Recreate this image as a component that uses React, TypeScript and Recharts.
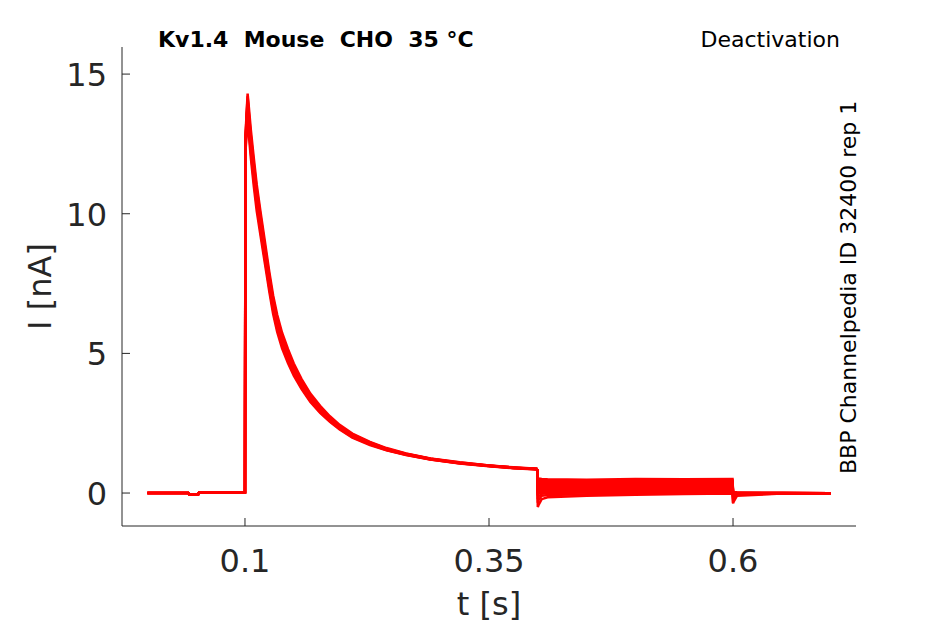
import { LineChart, Line, XAxis, YAxis } from "recharts";

// sample times [s] up to the end of the test pulse
const preTimes = [
  0, 0.042, 0.043, 0.052, 0.053, 0.0995, 0.1, 0.1005, 0.1027, 0.104, 0.106, 0.109, 0.112,
  0.116, 0.1205, 0.125, 0.1288, 0.133, 0.138, 0.144, 0.15, 0.158, 0.167, 0.177, 0.187, 0.197,
  0.21, 0.228, 0.245, 0.265, 0.29, 0.32, 0.35, 0.375, 0.3995,
];

// sample times [s] of the deactivation step and return
const tailTimes = [0.3995, 0.4, 0.4008, 0.404, 0.41, 0.45, 0.5, 0.55, 0.5995, 0.6, 0.6008, 0.604, 0.65, 0.7];

// holding level before the step (t 0 .. 0.1)
const baseline = [0, 0, -0.05, -0.05, 0.03, 0.03, 0.03];

// rise + peak (t 0.1005, 0.1027)
const peaks = [
  [12.8, 14.3],
  [12.7, 14.2],
  [12.5, 14.0],
  [12.4, 13.9],
  [12.3, 13.7],
  [12.6, 14.1],
  [12.5, 13.95],
  [12.2, 13.5],
];

// inactivating decay (t 0.104 .. 0.3995)
const decays = [
  [13.8, 13.0, 12.0, 11.05, 10.05, 8.98, 7.9, 7.08, 6.38, 5.74, 5.16, 4.64, 4.08, 3.56, 3.12, 2.75, 2.44, 2.13, 1.83, 1.61, 1.42, 1.24, 1.1, 0.99, 0.92, 0.87],
  [13.6, 12.8, 11.8, 10.9, 9.9, 8.82, 7.76, 6.95, 6.26, 5.63, 5.06, 4.55, 4.0, 3.49, 3.06, 2.7, 2.4, 2.1, 1.81, 1.59, 1.41, 1.23, 1.09, 0.99, 0.91, 0.87],
  [13.4, 12.6, 11.6, 10.7, 9.7, 8.65, 7.6, 6.8, 6.12, 5.5, 4.95, 4.45, 3.92, 3.42, 3.0, 2.65, 2.36, 2.06, 1.78, 1.57, 1.39, 1.22, 1.08, 0.98, 0.91, 0.86],
  [13.2, 12.4, 11.4, 10.5, 9.52, 8.5, 7.46, 6.67, 6.0, 5.39, 4.85, 4.36, 3.85, 3.36, 2.95, 2.61, 2.33, 2.03, 1.76, 1.55, 1.38, 1.21, 1.07, 0.97, 0.9, 0.85],
  [13.0, 12.2, 11.2, 10.3, 9.35, 8.34, 7.32, 6.54, 5.88, 5.28, 4.75, 4.27, 3.77, 3.3, 2.9, 2.57, 2.3, 2.0, 1.74, 1.54, 1.37, 1.2, 1.07, 0.97, 0.9, 0.85],
  [13.5, 12.7, 11.7, 10.8, 9.8, 8.74, 7.68, 6.88, 6.19, 5.57, 5.0, 4.5, 3.96, 3.46, 3.03, 2.68, 2.38, 2.08, 1.8, 1.58, 1.4, 1.23, 1.08, 0.98, 0.91, 0.86],
  [13.3, 12.5, 11.5, 10.6, 9.6, 8.57, 7.53, 6.73, 6.06, 5.45, 4.9, 4.4, 3.88, 3.39, 2.98, 2.63, 2.35, 2.05, 1.77, 1.56, 1.39, 1.22, 1.08, 0.98, 0.9, 0.86],
  [12.8, 12.0, 11.0, 10.1, 9.2, 8.2, 7.2, 6.42, 5.77, 5.18, 4.66, 4.2, 3.72, 3.26, 2.87, 2.55, 2.28, 1.98, 1.72, 1.53, 1.36, 1.2, 1.06, 0.96, 0.89, 0.84],
];

// deactivation tails (t 0.4 .. 0.5995), one per step voltage
const tails = [
  [0.55, 0.52, 0.5, 0.49, 0.48, 0.5, 0.49, 0.5],
  [0.5, 0.47, 0.46, 0.45, 0.44, 0.45, 0.45, 0.46],
  [0.44, 0.42, 0.41, 0.4, 0.4, 0.41, 0.41, 0.42],
  [0.38, 0.37, 0.36, 0.35, 0.35, 0.36, 0.37, 0.37],
  [0.33, 0.32, 0.31, 0.3, 0.31, 0.32, 0.33, 0.33],
  [0.28, 0.27, 0.26, 0.26, 0.27, 0.28, 0.29, 0.3],
  [0.22, 0.22, 0.22, 0.22, 0.23, 0.24, 0.25, 0.26],
  [0.15, 0.17, 0.18, 0.18, 0.19, 0.2, 0.21, 0.22],
  [0.08, 0.12, 0.13, 0.14, 0.15, 0.16, 0.17, 0.18],
  [0.0, 0.06, 0.08, 0.09, 0.11, 0.12, 0.13, 0.14],
  [-0.1, -0.02, 0.03, 0.04, 0.06, 0.08, 0.09, 0.1],
  [-0.22, -0.12, -0.03, -0.01, 0.02, 0.04, 0.05, 0.06],
  [-0.35, -0.25, -0.1, -0.07, -0.04, -0.01, 0.01, 0.02],
  [-0.5, -0.42, -0.22, -0.15, -0.1, -0.06, -0.03, -0.02],
];

// back to holding (t 0.6 .. 0.7)
const returns = [
  [0.05, 0.03, 0.01, 0.0, -0.01],
  [0.05, 0.03, 0.01, 0.0, -0.01],
  [0.04, 0.03, 0.01, 0.0, -0.01],
  [0.04, 0.02, 0.01, 0.0, -0.01],
  [0.03, 0.02, 0.0, 0.0, -0.01],
  [0.03, 0.02, 0.0, -0.01, -0.01],
  [0.02, 0.01, 0.0, -0.01, -0.01],
  [0.01, 0.01, 0.0, -0.01, -0.01],
  [0.0, 0.0, 0.0, -0.01, -0.01],
  [-0.03, -0.02, 0.0, -0.01, -0.01],
  [-0.08, -0.06, -0.01, -0.01, -0.01],
  [-0.15, -0.12, -0.03, -0.01, -0.01],
  [-0.25, -0.2, -0.06, -0.02, -0.02],
  [-0.36, -0.3, -0.1, -0.02, -0.02],
];

const xTicks = [0.1, 0.35, 0.6];
const yTicks = [0, 5, 10, 15];

const W = 945;
const H = 624;
const PLOT_L = 122;
const PLOT_R = 856;
const PLOT_T = 47;
const PLOT_B = 526;
const Y_AXIS_W = 60;
const X_AXIS_H = 30;
const AXIS = "#262626";
const RED = "#ff0000";
const FONT = "DejaVu Sans, sans-serif";
const LABEL_SIZE = 32;

const preSweeps = peaks.map((p, k) => {
  const v = [...baseline, ...p, ...decays[k]];
  return preTimes.map((t, i) => ({ t, v: v[i] }));
});

const tailSweeps = tails.map((tl, k) => {
  const v = [0.86, ...tl, ...returns[k]];
  return tailTimes.map((t, i) => ({ t, v: v[i] }));
});

function XTick({ x, payload }: any) {
  return (
    <g>
      <line x1={x} x2={x} y1={PLOT_B} y2={PLOT_B - 8} stroke={AXIS} strokeWidth={1} />
      <text x={x} y={PLOT_B + 46} textAnchor="middle" fontSize={LABEL_SIZE} fill={AXIS} fontFamily={FONT}>
        {payload.value}
      </text>
    </g>
  );
}

function YTick({ y, payload }: any) {
  return (
    <g>
      <line x1={PLOT_L} x2={PLOT_L + 8} y1={y} y2={y} stroke={AXIS} strokeWidth={1} />
      <text x={PLOT_L - 15} y={y + 12} textAnchor="end" fontSize={LABEL_SIZE} fill={AXIS} fontFamily={FONT}>
        {payload.value}
      </text>
    </g>
  );
}

export default function App() {
  return (
    <div style={{ position: "absolute", left: 0, top: 0, width: W, height: H, background: "#fff" }}>
      <LineChart
        width={W}
        height={H}
        margin={{
          top: PLOT_T,
          right: W - PLOT_R,
          bottom: H - PLOT_B - X_AXIS_H,
          left: PLOT_L - Y_AXIS_W,
        }}
      >
        <XAxis
          type="number"
          dataKey="t"
          domain={[-0.026, 0.726]}
          ticks={xTicks}
          allowDataOverflow
          height={X_AXIS_H}
          axisLine={{ stroke: AXIS, strokeWidth: 1 }}
          tickLine={false}
          tick={<XTick />}
        />
        <YAxis
          type="number"
          dataKey="v"
          domain={[-1.18, 15.97]}
          ticks={yTicks}
          allowDataOverflow
          width={Y_AXIS_W}
          axisLine={{ stroke: AXIS, strokeWidth: 1 }}
          tickLine={false}
          tick={<YTick />}
        />
        {preSweeps.map((d, k) => (
          <Line
            key={`p${k}`}
            data={d}
            dataKey="v"
            type="linear"
            stroke={RED}
            strokeWidth={2.5}
            dot={false}
            activeDot={false}
            isAnimationActive={false}
          />
        ))}
        {tailSweeps.map((d, k) => (
          <Line
            key={`t${k}`}
            data={d}
            dataKey="v"
            type="linear"
            stroke={RED}
            strokeWidth={2.5}
            dot={false}
            activeDot={false}
            isAnimationActive={false}
          />
        ))}
      </LineChart>
      <svg
        width={W}
        height={H}
        style={{ position: "absolute", left: 0, top: 0, pointerEvents: "none" }}
        fontFamily={FONT}
      >
        <text x={158} y={47} fontSize={22} fontWeight="bold" fill="#000" style={{ whiteSpace: "pre" }}>
          {"Kv1.4  Mouse  CHO  35 °C"}
        </text>
        <text x={840} y={47} fontSize={22} textAnchor="end" fill="#000">
          Deactivation
        </text>
        <text transform="translate(856,474) rotate(-90)" fontSize={22} fill="#000">
          BBP Channelpedia ID 32400 rep 1
        </text>
        <text x={(PLOT_L + PLOT_R) / 2} y={615} fontSize={LABEL_SIZE} textAnchor="middle" fill={AXIS}>
          t [s]
        </text>
        <text
          transform={`translate(51,${(PLOT_T + PLOT_B) / 2}) rotate(-90)`}
          fontSize={LABEL_SIZE}
          textAnchor="middle"
          fill={AXIS}
        >
          I [nA]
        </text>
      </svg>
    </div>
  );
}
